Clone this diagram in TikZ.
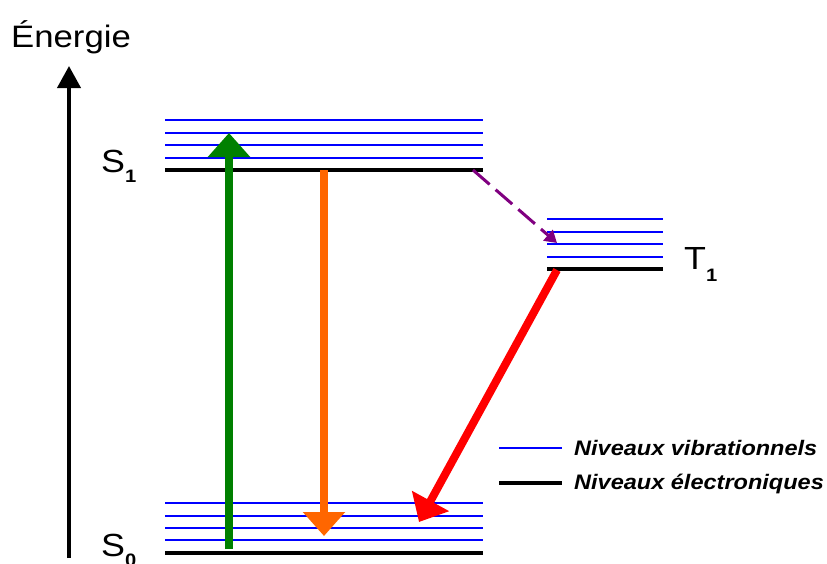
\documentclass[tikz,border=0pt]{standalone}
\usepackage{fontspec}
\setmainfont[FakeStretch=1.12]{Liberation Sans}
\usetikzlibrary{arrows.meta}
\definecolor{vblue}{RGB}{0,0,255}
\definecolor{agreen}{RGB}{0,128,0}
\definecolor{aorange}{RGB}{255,102,0}
\definecolor{ared}{RGB}{255,0,0}
\definecolor{apurple}{RGB}{128,0,128}
\begin{document}
\begin{tikzpicture}[x=1pt,y=-1pt,
  vib/.style={draw=vblue,line width=2.5pt},
  elec/.style={draw=black,line width=4.5pt},
  lbl/.style={anchor=base west,inner sep=0pt,font=\fontsize{32}{32}\selectfont},
  legtext/.style={anchor=base west,inner sep=0pt,font=\fontsize{21}{21}\selectfont\bfseries\itshape},
  bigarrow/.style={line width=8pt,-{Triangle[width=41pt,length=24pt]}}]
\useasboundingbox (0,0) rectangle (827,563);
% axis
\coordinate (ax0) at (69,558);
\coordinate (ax1) at (69,66);
\draw[line width=4pt,-{Triangle[width=23pt,length=22pt]}] (ax0) -- (ax1);
\node[anchor=base west,inner sep=0pt,font=\fontsize{31}{31}\selectfont] (energie) at (11,47) {Énergie};
% S1 levels
\foreach \y in {120,133,145,158} \draw[vib] (165,\y) -- (483,\y);
\draw[elec] (165,170) -- (483,170);
% S0 levels
\foreach \y in {503,516,528,540} \draw[vib] (165,\y) -- (483,\y);
\draw[elec] (165,553) -- (483,553);
% T1 levels
\foreach \y in {219,232,244,257} \draw[vib] (547,\y) -- (663,\y);
\draw[elec] (547,269) -- (663,269);
% labels
\node[lbl] (s1) at (101,172) {S\raisebox{-10pt}{\fontsize{18}{18}\selectfont\bfseries 1}};
\node[lbl] (s0) at (101,556) {S\raisebox{-10pt}{\fontsize{18}{18}\selectfont\bfseries 0}};
\node[lbl] (t1) at (684,269) {T\raisebox{-12pt}{\fontsize{18}{18}\selectfont\bfseries 1}};
% transition end points
\coordinate (g0) at (229,549);
\coordinate (g1) at (229,133);
\coordinate (o0) at (324,170);
\coordinate (o1) at (324,536);
\coordinate (r0) at (557,270);
\coordinate (r1) at (419,522);
\coordinate (p0) at (473,170);
\coordinate (p1) at (557,243);
\draw[bigarrow,draw=agreen,fill=agreen] (g0) -- (g1);
\draw[bigarrow,draw=aorange,fill=aorange] (o0) -- (o1);
\draw[bigarrow,draw=ared,fill=ared] (r0) -- (r1);
\draw[draw=apurple,line width=3pt,dash pattern=on 22pt off 8pt,
  -{Triangle[width=14pt,length=12pt]}] (p0) -- (p1);
% legend
\coordinate (lv0) at (499,448);
\coordinate (lv1) at (562,448);
\coordinate (le0) at (499,483);
\coordinate (le1) at (562,483);
\draw[vib,line width=2pt] (lv0) -- (lv1);
\draw[elec] (le0) -- (le1);
\node[legtext] (legv) at (574,455) {Niveaux vibrationnels};
\node[legtext] (lege) at (574,489) {Niveaux électroniques};
\end{tikzpicture}
\end{document}
